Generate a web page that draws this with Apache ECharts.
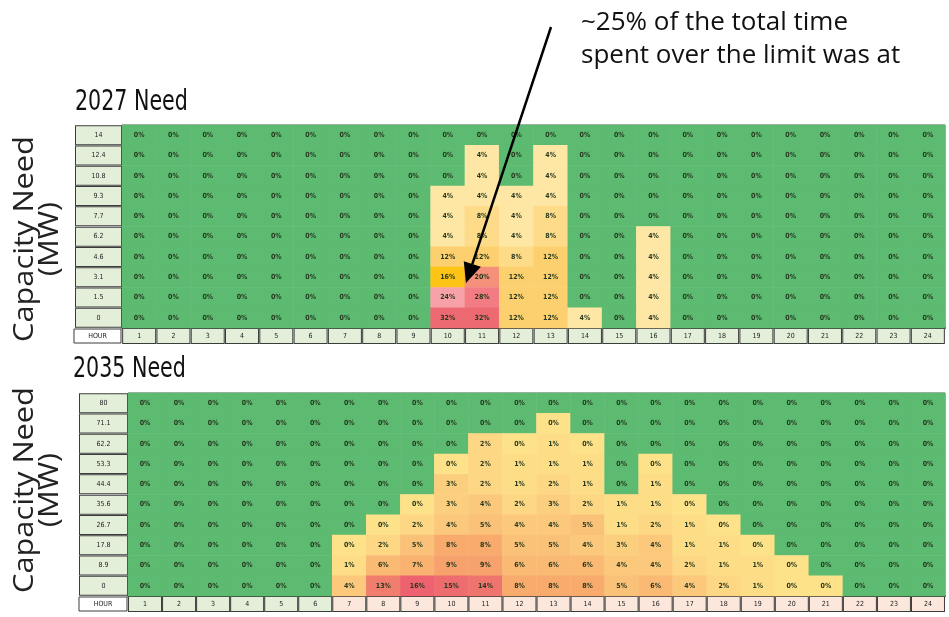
<!DOCTYPE html>
<html>
<head>
<meta charset="utf-8">
<script src="https://cdn.jsdelivr.net/npm/echarts@6/dist/echarts.min.js"></script>
<style>
  html, body { margin: 0; padding: 0; background: #ffffff; }
  #chart { width: 949px; height: 617px; }
</style>
</head>
<body>
<div id="chart"></div>
<script>
// Hour of day (columns)
const hours = ['1','2','3','4','5','6','7','8','9','10','11','12','13','14','15','16','17','18','19','20','21','22','23','24'];

// Capacity need levels, listed top row first
const levels2027 = ['14','12.4','10.8','9.3','7.7','6.2','4.6','3.1','1.5','0'];
const levels2035 = ['80','71.1','62.2','53.3','44.4','35.6','26.7','17.8','8.9','0'];

// Share of time (%) at each level and hour, 2027 (rows follow levels2027)
const share2027 = [
  [0,0,0,0,0,0,0,0,0, 0, 0, 0, 0,0,0,0,0,0,0,0,0,0,0,0],
  [0,0,0,0,0,0,0,0,0, 0, 4, 0, 4,0,0,0,0,0,0,0,0,0,0,0],
  [0,0,0,0,0,0,0,0,0, 0, 4, 0, 4,0,0,0,0,0,0,0,0,0,0,0],
  [0,0,0,0,0,0,0,0,0, 4, 4, 4, 4,0,0,0,0,0,0,0,0,0,0,0],
  [0,0,0,0,0,0,0,0,0, 4, 8, 4, 8,0,0,0,0,0,0,0,0,0,0,0],
  [0,0,0,0,0,0,0,0,0, 4, 8, 4, 8,0,0,4,0,0,0,0,0,0,0,0],
  [0,0,0,0,0,0,0,0,0,12,12, 8,12,0,0,4,0,0,0,0,0,0,0,0],
  [0,0,0,0,0,0,0,0,0,16,20,12,12,0,0,4,0,0,0,0,0,0,0,0],
  [0,0,0,0,0,0,0,0,0,24,28,12,12,0,0,4,0,0,0,0,0,0,0,0],
  [0,0,0,0,0,0,0,0,0,32,32,12,12,4,0,4,0,0,0,0,0,0,0,0]
];

// Share of time (%) at each level and hour, 2035 (rows follow levels2035)
// 0.4 = over the limit but below half a percent (shown as 0%)
const share2035 = [
  [0,0,0,0,0,0,  0,  0,  0,  0, 0,  0,  0,  0,0,  0,  0,  0,  0,  0,  0,0,0,0],
  [0,0,0,0,0,0,  0,  0,  0,  0, 0,  0,0.4,  0,0,  0,  0,  0,  0,  0,  0,0,0,0],
  [0,0,0,0,0,0,  0,  0,  0,  0, 2,0.4,  1,0.4,0,  0,  0,  0,  0,  0,  0,0,0,0],
  [0,0,0,0,0,0,  0,  0,  0,0.4, 2,  1,  1,  1,0,0.4,  0,  0,  0,  0,  0,0,0,0],
  [0,0,0,0,0,0,  0,  0,  0,  3, 2,  1,  2,  1,0,  1,  0,  0,  0,  0,  0,0,0,0],
  [0,0,0,0,0,0,  0,  0,0.4,  3, 4,  2,  3,  2,1,  1,0.4,  0,  0,  0,  0,0,0,0],
  [0,0,0,0,0,0,  0,0.4,  2,  4, 5,  4,  4,  5,1,  2,  1,0.4,  0,  0,  0,0,0,0],
  [0,0,0,0,0,0,0.4,  2,  5,  8, 8,  5,  5,  4,3,  4,  1,  1,0.4,  0,  0,0,0,0],
  [0,0,0,0,0,0,  1,  6,  7,  9, 9,  6,  6,  6,4,  4,  2,  1,  1,0.4,  0,0,0,0],
  [0,0,0,0,0,0,  4, 13, 16, 15,14,  8,  8,  8,5,  6,  4,  2,  1,0.4,0.4,0,0,0]
];

// Colour scales
const GREEN = '#5dba71';
function color2027(v) {
  if (v <= 0) return GREEN;
  if (v <= 4) return '#fee6a4';
  if (v <= 8) return '#fddb89';
  if (v <= 12) return '#fdd06f';
  if (v <= 16) return '#fcc415';
  if (v <= 20) return '#f5907a';
  if (v <= 24) return '#f7a2a8';
  if (v <= 28) return '#f37c84';
  return '#ee6a72';
}
const stops2035 = [[0, [254, 229, 139]], [8, [248, 171, 108]], [16, [237, 98, 110]]];
function color2035(v) {
  if (v <= 0) return GREEN;
  for (let i = 1; i < stops2035.length; i++) {
    const [v0, c0] = stops2035[i - 1], [v1, c1] = stops2035[i];
    if (v <= v1 || i === stops2035.length - 1) {
      const t = Math.max(0, Math.min(1, (v - v0) / (v1 - v0)));
      const c = c0.map((a, k) => Math.round(a + (c1[k] - a) * t));
      return 'rgb(' + c.join(',') + ')';
    }
  }
}

function cells(matrix, colorFn) {
  const out = [];
  const n = matrix.length;
  matrix.forEach((row, r) => {
    row.forEach((v, c) => {
      out.push({ value: [c, n - 1 - r, v], itemStyle: { color: colorFn(v) } });
    });
  });
  return out;
}

const NARROW = "'Liberation Sans Narrow', 'DejaVu Sans Condensed', sans-serif";
const boxGreen = '#e4efda';
const boxPink = '#fbe7dc';

function xAxisFor(gridIndex, pinkFrom) {
  const box = bg => ({ width: 32, height: 14, lineHeight: 14, align: 'center', backgroundColor: bg, borderColor: '#3c3c3c', borderWidth: 1, fontSize: 7, fontFamily: NARROW, color: '#222' });
  return {
    type: 'category', gridIndex, data: hours, position: 'bottom',
    axisLine: { show: true, lineStyle: { color: '#4a4a4a', width: 2 } },
    axisTick: { show: false }, splitLine: { show: false },
    axisLabel: {
      interval: 0, margin: 1,
      formatter: (v, i) => (pinkFrom && i >= pinkFrom - 1) ? '{p|' + v + '}' : '{g|' + v + '}',
      rich: { g: box(boxGreen), p: box(boxPink) }
    }
  };
}
function yAxisFor(gridIndex, levels, boxW) {
  return {
    type: 'category', gridIndex, data: levels.slice().reverse(),
    axisLine: { show: false }, axisTick: { show: false }, splitLine: { show: false },
    axisLabel: {
      interval: 0, margin: 1,
      formatter: v => '{b|' + v + '}',
      rich: {
        b: { width: boxW, height: 18, lineHeight: 18, align: 'center', backgroundColor: boxGreen, borderColor: '#3c3c3c', borderWidth: 1, fontSize: 7, fontFamily: NARROW, color: '#222' }
      }
    }
  };
}

const cellLabel = {
  show: true,
  formatter: p => Math.round(p.value[2]) + '%',
  fontSize: 7, fontFamily: NARROW, fontWeight: 'bold', color: '#26381f'
};

// Arrow geometry for the callout
const tail = [551, 27], tip = [466, 283];
const dx = tip[0] - tail[0], dy = tip[1] - tail[1];
const len = Math.hypot(dx, dy), ux = dx / len, uy = dy / len;
const headL = 20, headW = 9;
const base = [tip[0] - ux * headL, tip[1] - uy * headL];

const axisTitle = (y) => ({
  type: 'text', x: 38, y, rotation: Math.PI / 2, scaleX: 1.14,
  style: { text: 'Capacity Need\n(MW)', fontSize: 27, lineHeight: 25, fontFamily: "'Open Sans', sans-serif", fill: '#222', align: 'center', verticalAlign: 'middle' }
});

const chart = echarts.init(document.getElementById('chart'), null, { renderer: 'canvas' });
chart.setOption({
  backgroundColor: '#ffffff',
  animation: false,
  grid: [
    { left: 122, top: 125, width: 823, height: 203, show: true, borderColor: '#5a5a5a', borderWidth: 1, backgroundColor: 'transparent' },
    { left: 128, top: 393, width: 817, height: 203, show: true, borderColor: '#5a5a5a', borderWidth: 1, backgroundColor: 'transparent' }
  ],
  xAxis: [xAxisFor(0, 0), xAxisFor(1, 7)],
  yAxis: [yAxisFor(0, levels2027, 45), yAxisFor(1, levels2035, 47)],
  series: [
    { type: 'heatmap', xAxisIndex: 0, yAxisIndex: 0, data: cells(share2027, color2027), label: cellLabel, emphasis: { disabled: true } },
    { type: 'heatmap', xAxisIndex: 1, yAxisIndex: 1, data: cells(share2035, color2035), label: cellLabel, emphasis: { disabled: true } }
  ],
  graphic: [
    { type: 'text', x: 75, y: 88, scaleX: 0.79, style: { text: '2027 Need', fontSize: 29, fontFamily: NARROW, fill: '#111' } },
    { type: 'text', x: 73, y: 355, scaleX: 0.79, style: { text: '2035 Need', fontSize: 29, fontFamily: NARROW, fill: '#111' } },
    axisTitle(239),
    axisTitle(490),
    { type: 'rect', shape: { x: 74, y: 329, width: 47, height: 14 }, style: { fill: '#ffffff', stroke: '#3c3c3c', lineWidth: 1 } },
    { type: 'text', x: 97.5, y: 336, style: { text: 'HOUR', fontSize: 7, fontFamily: NARROW, fill: '#222', align: 'center', verticalAlign: 'middle' } },
    { type: 'rect', shape: { x: 79, y: 597, width: 48, height: 14 }, style: { fill: '#ffffff', stroke: '#3c3c3c', lineWidth: 1 } },
    { type: 'text', x: 103, y: 604, style: { text: 'HOUR', fontSize: 7, fontFamily: NARROW, fill: '#222', align: 'center', verticalAlign: 'middle' } },
    { type: 'text', x: 581, y: 6, style: { text: '~25% of the total time\nspent over the limit was at', fontSize: 26, lineHeight: 33, fontFamily: "'Open Sans', sans-serif", fill: '#111' } },
    { type: 'line', z: 100, shape: { x1: tail[0], y1: tail[1], x2: base[0], y2: base[1] }, style: { stroke: '#000', lineWidth: 2.5 } },
    { type: 'polygon', z: 100, shape: { points: [tip, [base[0] + uy * headW, base[1] - ux * headW], [base[0] - uy * headW, base[1] + ux * headW]] }, style: { fill: '#000' } }
  ]
});
</script>
</body>
</html>
